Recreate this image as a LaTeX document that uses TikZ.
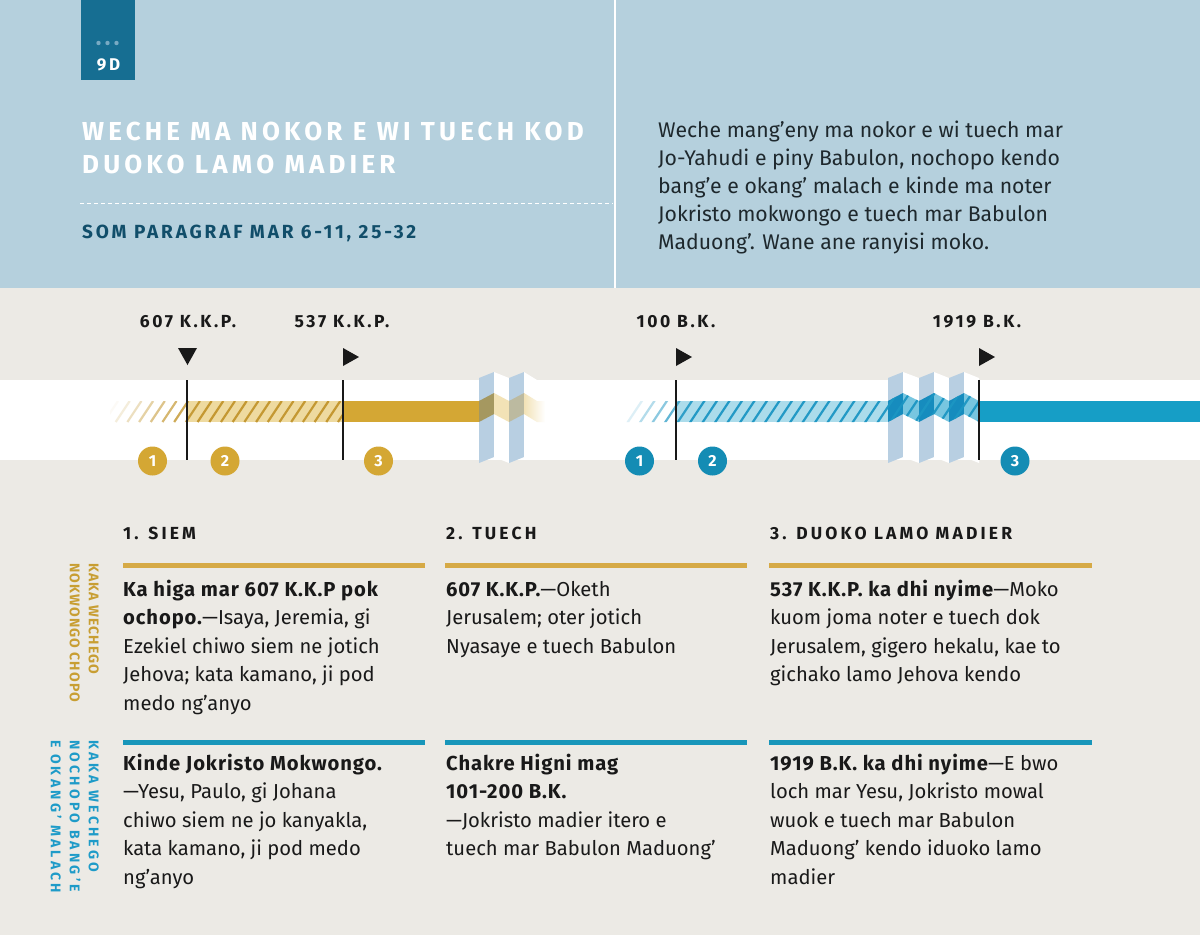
\documentclass[tikz,border=0pt]{standalone}
\usepackage{fontspec}
\setmainfont{Fira Sans}
\newfontfamily\spacedfont{Fira Sans}[LetterSpace=15]
\newfontfamily\headfont{Fira Sans}[LetterSpace=18]
\newfontfamily\titlefont{Fira Sans}[LetterSpace=16]
\newfontfamily\wideboldfont{Fira Sans}[LetterSpace=4.5]
\newfontfamily\vgoldfont{Fira Sans}[LetterSpace=8]
\newfontfamily\vbluefont{Fira Sans}[LetterSpace=23]
\newcommand\bldw[1]{{\wideboldfont\bfseries #1}}
\definecolor{topblue}{RGB}{181,208,221}
\definecolor{bggray}{RGB}{236,234,229}
\definecolor{badgec}{RGB}{22,110,146}
\definecolor{dotc}{RGB}{120,170,195}
\definecolor{darkteal}{RGB}{17,78,106}
\definecolor{gold}{RGB}{212,167,52}
\definecolor{palegold}{RGB}{238,218,160}
\definecolor{hatchgold}{RGB}{196,152,50}
\definecolor{tblue}{RGB}{22,158,198}
\definecolor{paleblue}{RGB}{172,220,235}
\definecolor{hatchblue}{RGB}{28,150,195}
\definecolor{foldblue}{RGB}{184,207,226}
\definecolor{circblue}{RGB}{20,140,180}
\definecolor{txtgold}{RGB}{200,158,50}
\definecolor{txtblue}{RGB}{30,155,200}
\definecolor{rulegold}{RGB}{214,170,70}
\definecolor{ruleblue}{RGB}{24,150,186}
\definecolor{ink}{RGB}{25,25,25}
\definecolor{introink}{RGB}{30,40,45}
\definecolor{foldgoldA}{RGB}{165,152,96}
\definecolor{foldgoldB}{RGB}{242,226,182}
\definecolor{foldgoldC}{RGB}{188,186,160}
\definecolor{foldblueA}{RGB}{22,140,190}
\definecolor{foldblueB}{RGB}{120,198,224}
\begin{document}
\begin{tikzpicture}[x=1pt,y=-1pt,
  datelbl/.style={anchor=base, inner sep=0, text=ink, font=\spacedfont\bfseries\fontsize{17.5}{17.5}\selectfont},
  colhead/.style={anchor=base west, inner sep=0, text=ink, font=\headfont\bfseries\fontsize{17.5}{17.5}\selectfont},
  body/.style={anchor=base west, inner sep=0, align=left, text=ink, font=\fontsize{20.2}{28.5}\selectfont},
  vlbl/.style={anchor=north west, inner sep=0, align=left, rotate=-90},
  numc/.style={circle, inner sep=0, minimum size=29pt, text=white, font=\bfseries\fontsize{16}{16}\selectfont},
  tick/.style={ink, line width=1.4pt},
  trimark/.style={fill=ink},
  rulebar/.style={line width=5pt}
]
\useasboundingbox (0,0) rectangle (1200,935);
\fill[bggray] (0,0) rectangle (1200,935);
\fill[topblue] (0,0) rectangle (1200,288);
\draw[white, line width=1.2pt] (615,0) -- (615,288);

% badge
\node[fill=badgec, minimum width=54pt, minimum height=80pt, anchor=north west, inner sep=0] (badge) at (80.5,0) {};
\fill[dotc] (98.5,43) circle (2.2pt) (107.5,43) circle (2.2pt) (116.5,43) circle (2.2pt);
\node[anchor=base, inner sep=0, text=white, font=\spacedfont\bfseries\fontsize{17}{17}\selectfont] (badgelbl) at (108.5,70) {9D};

% title (base anchor = last line baseline)
\node[anchor=base west, align=left, inner sep=0, text=white, font=\titlefont\bfseries\fontsize{26}{33}\selectfont] (title) at (82,173) {WECHE MA NOKOR E WI TUECH KOD\\DUOKO LAMO MADIER};
\draw[white, line width=1pt, dash pattern=on 4pt off 3pt] (80,203) -- (613,203);
\node[anchor=base west, inner sep=0, text=darkteal, font=\spacedfont\bfseries\fontsize{19}{19}\selectfont] (sub) at (82,238) {SOM PARAGRAF MAR 6-11, 25-32};

\node[anchor=base west, align=left, inner sep=0, text=introink, font=\fontsize{21.2}{28}\selectfont] (intro) at (658,249) {Weche mang’eny ma nokor e wi tuech mar\\Jo-Yahudi e piny Babulon, nochopo kendo\\bang’e e okang’ malach e kinde ma noter\\Jokristo mokwongo e tuech mar Babulon\\Maduong’. Wane ane ranyisi moko.};

% timeline band
\fill[white] (0,380) rectangle (1200,460);

% gold bar
\fill[palegold] (187,401) rectangle (343,422);
\begin{scope}
\clip (110,401) rectangle (343,422);
\foreach \x in {104,115.7,...,345} {
  \pgfmathsetmacro\op{min(1,max(0,(\x-100)/90))}
  \draw[hatchgold, line width=2.2pt, opacity=\op] (\x,422) -- (\x+14,401);
}
\end{scope}
\fill[gold] (343,401) rectangle (479.5,422);

% left fold
\fill[foldblue] (479,378) -- (494,372) -- (494,457) -- (479,463) -- cycle;
\fill[white] (494,372) -- (509,378) -- (509,463) -- (494,457) -- cycle;
\fill[foldblue] (509,378) -- (524,372) -- (524,457) -- (509,463) -- cycle;
\fill[white] (524,372) -- (537,380) -- (537,460) -- (524,457) -- cycle;
\fill[foldgoldA] (479,401) -- (494,393) -- (494,414) -- (479,422) -- cycle;
\fill[foldgoldB] (494,393) -- (509,401) -- (509,422) -- (494,414) -- cycle;
\fill[foldgoldC] (509,401) -- (524,393) -- (524,414) -- (509,422) -- cycle;
\shade[left color=foldgoldB, right color=white] (524,393) -- (537,401) -- (545,401) -- (545,422) -- (537,422) -- (524,414) -- cycle;

% blue bar
\fill[paleblue] (676,401) rectangle (888,422);
% right fold panels
\fill[foldblue] (888,378) -- (903,372) -- (903,457) -- (888,463) -- cycle;
\fill[white] (903,372) -- (919,378) -- (919,463) -- (903,457) -- cycle;
\fill[foldblue] (919,378) -- (934,372) -- (934,457) -- (919,463) -- cycle;
\fill[white] (934,372) -- (949,378) -- (949,463) -- (934,457) -- cycle;
\fill[foldblue] (949,378) -- (964,372) -- (964,457) -- (949,463) -- cycle;
\fill[white] (964,372) -- (979,378) -- (979,463) -- (964,457) -- cycle;
\fill[foldblueA] (888,401) -- (903,393) -- (903,414) -- (888,422) -- cycle;
\fill[foldblueB] (903,393) -- (919,401) -- (919,422) -- (903,414) -- cycle;
\fill[foldblueA] (919,401) -- (934,393) -- (934,414) -- (919,422) -- cycle;
\fill[foldblueB] (934,393) -- (949,401) -- (949,422) -- (934,414) -- cycle;
\fill[foldblueA] (949,401) -- (964,393) -- (964,414) -- (949,422) -- cycle;
\fill[foldblueB] (964,393) -- (979,401) -- (979,422) -- (964,414) -- cycle;
\begin{scope}
\clip (620,401) -- (888,401) -- (903,393) -- (919,401) -- (934,393) -- (949,401) -- (964,393) -- (979,401) -- (979,422) -- (964,414) -- (949,422) -- (934,414) -- (919,422) -- (903,414) -- (888,422) -- (620,422) -- cycle;
\foreach \x in {610,622.5,...,990} {
  \pgfmathsetmacro\op{min(0.95,max(0,(\x-612)/70))}
  \draw[hatchblue, line width=2.2pt, opacity=\op] (\x,430) -- (\x+24.7,393);
}
\end{scope}
\fill[tblue] (979,401) rectangle (1200,422);

% ticks and markers
\draw[tick] (187,380) -- (187,460);
\draw[tick] (343,380) -- (343,460);
\draw[tick] (676,380) -- (676,460);
\draw[tick] (979,380) -- (979,460);
\fill[trimark] (178,348) -- (197,348) -- (187.5,365) -- cycle;
\fill[trimark] (343,348) -- (359,357) -- (343,366) -- cycle;
\fill[trimark] (676,348) -- (692,357) -- (676,366) -- cycle;
\fill[trimark] (979,348) -- (995,357) -- (979,366) -- cycle;

\node[datelbl] (d607) at (188,327) {607 K.K.P.};
\node[datelbl] (d537) at (342,327) {537 K.K.P.};
\node[datelbl] (d100) at (676,327) {100 B.K.};
\node[datelbl] (d1919) at (977,327) {1919 B.K.};

% number circles
\node[numc, fill=gold] (g1) at (152.5,461) {1};
\node[numc, fill=gold] (g2) at (225,461) {2};
\node[numc, fill=gold] (g3) at (378.5,461) {3};
\node[numc, fill=circblue] (b1) at (639.5,461) {1};
\node[numc, fill=circblue] (b2) at (712.5,461) {2};
\node[numc, fill=circblue] (b3) at (1015,461) {3};

% columns
\node[colhead] (h1) at (123,539) {1. SIEM};
\node[colhead] (h2) at (446,539) {2. TUECH};
\node[colhead] (h3) at (770,539) {3. DUOKO LAMO MADIER};

\draw[rulebar, rulegold] (123,565.5) -- (425,565.5);
\draw[rulebar, rulegold] (445,565.5) -- (747,565.5);
\draw[rulebar, rulegold] (769,565.5) -- (1092,565.5);
\draw[rulebar, ruleblue] (123,742.5) -- (425,742.5);
\draw[rulebar, ruleblue] (445,742.5) -- (747,742.5);
\draw[rulebar, ruleblue] (769,742.5) -- (1092,742.5);

% body texts (base anchor = last line baseline)
\node[body] (c1a) at (123,710) {\bldw{Ka higa mar 607 K.K.P pok}\\\bldw{ochopo.}—Isaya, Jeremia, gi\\Ezekiel chiwo siem ne jotich\\Jehova; kata kamano, ji pod\\medo ng’anyo};
\node[body] (c1b) at (123,884) {\bldw{Kinde Jokristo Mokwongo.}\\—Yesu, Paulo, gi Johana\\chiwo siem ne jo kanyakla,\\kata kamano, ji pod medo\\ng’anyo};
\node[body] (c2a) at (446,653) {\bldw{607 K.K.P.}—Oketh\\Jerusalem; oter jotich\\Nyasaye e tuech Babulon};
\node[body] (c2b) at (446,855.5) {\bldw{Chakre Higni mag}\\\bldw{101-200 B.K.}\\—Jokristo madier itero e\\tuech mar Babulon Maduong’};
\node[body] (c3a) at (770,681.5) {\bldw{537 K.K.P. ka dhi nyime}—Moko\\kuom joma noter e tuech dok\\Jerusalem, gigero hekalu, kae to\\gichako lamo Jehova kendo};
\node[body] (c3b) at (770,884) {\bldw{1919 B.K. ka dhi nyime}—E bwo\\loch mar Yesu, Jokristo mowal\\wuok e tuech mar Babulon\\Maduong’ kendo iduoko lamo\\madier};

% vertical side labels
\node[vlbl, text=txtgold, font=\vgoldfont\bfseries\fontsize{14}{19}\selectfont] (vgold) at (99,563) {KAKA WECHEGO\\NOKWONGO CHOPO};
\node[vlbl, text=txtblue, font=\vbluefont\bfseries\fontsize{14}{19}\selectfont] (vblue) at (99,740) {KAKA WECHEGO\\NOCHOPO BANG’E\\E OKANG’ MALACH};
\end{tikzpicture}
\end{document}
